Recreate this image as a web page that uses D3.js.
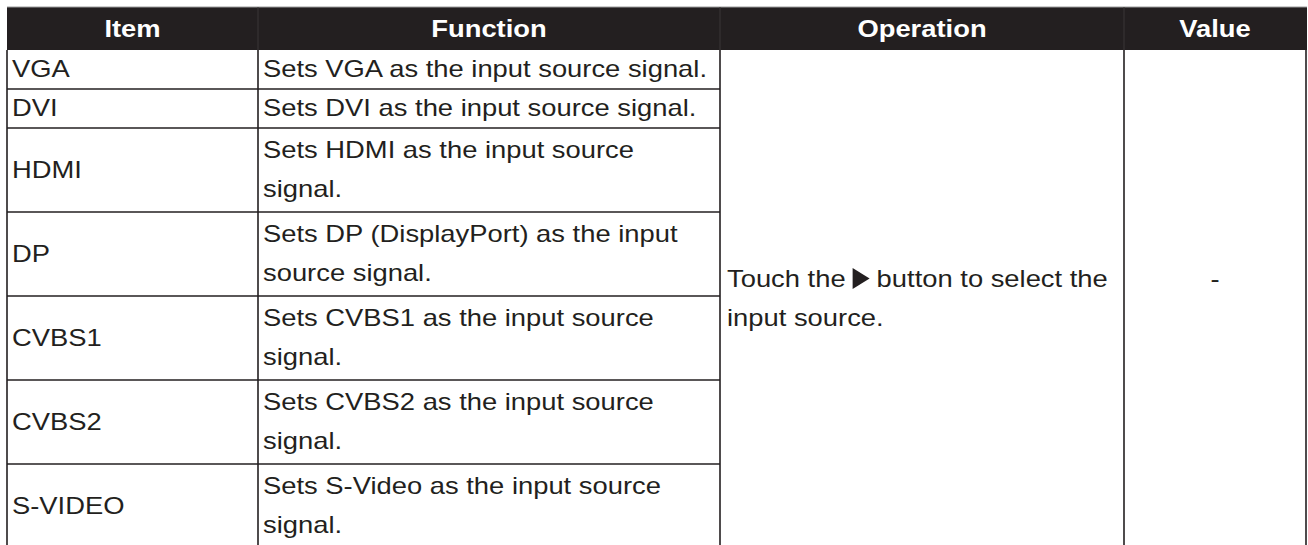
<!DOCTYPE html>
<html>
<head>
<meta charset="utf-8">
<script src="https://cdn.jsdelivr.net/npm/d3@7/dist/d3.min.js"></script>
<style>
  html,body{margin:0;padding:0;background:#fff;}
  svg{display:block;}
</style>
</head>
<body>
<svg id="chart" width="1308" height="545"></svg>
<script>
// ---- data ----
const headers = ["Item", "Function", "Operation", "Value"];
const items = ["VGA", "DVI", "HDMI", "DP", "CVBS1", "CVBS2", "S-VIDEO"];
const functionLines = [
  ["Sets VGA as the input source signal."],
  ["Sets DVI as the input source signal."],
  ["Sets HDMI as the input source", "signal."],
  ["Sets DP (DisplayPort) as the input", "source signal."],
  ["Sets CVBS1 as the input source", "signal."],
  ["Sets CVBS2 as the input source", "signal."],
  ["Sets S-Video as the input source", "signal."]
];
const operationLines = [["Touch the", "ARROW", "button to select the"], ["input source."]];
const valueText = ["-"];

// ---- layout ----
const W = 1308, H = 545;
const dark = "#231f20";
const colEdges = [7, 258, 720, 1124, 1306];
const headerTop = 7, headerBottom = 50;
const lineStep = 39, extraPerLine = 6;
const fontSize = 23, sx = 1.19, pad = 5, capOff = 7.5;

const svg = d3.select("#chart");

const colX0 = d3.scaleOrdinal().domain(headers).range(colEdges.slice(0, 4));
const colX1 = d3.scaleOrdinal().domain(headers).range(colEdges.slice(1));

const rowH = functionLines.map(l => l.length * lineStep + (l.length - 1) * extraPerLine);
const rowTops = [headerBottom];
rowH.forEach((h, i) => rowTops.push(rowTops[i] + h));
const rowY = d3.scaleOrdinal().domain(items).range(rowTops.slice(0, items.length));
const rowHs = d3.scaleOrdinal().domain(items).range(rowH);
const tableBottom = rowTops[rowTops.length - 1];

// header
svg.append("rect").attr("x", colEdges[0]).attr("y", headerTop)
  .attr("width", 1307 - colEdges[0]).attr("height", headerBottom - headerTop)
  .attr("fill", dark);
svg.append("line").attr("x1", colEdges[0]).attr("x2", 1307).attr("y1", headerTop).attr("y2", headerTop)
  .attr("stroke", "#9a9a9a").attr("stroke-width", 1);
svg.selectAll("line.hsep").data(colEdges.slice(1, 4)).enter().append("line")
  .attr("x1", d => d).attr("x2", d => d).attr("y1", headerTop).attr("y2", headerBottom)
  .attr("stroke", "#3a3637").attr("stroke-width", 1);

function addText(g, str, x, y, anchor, opts) {
  return g.append("text")
    .attr("transform", `translate(${x},${y}) scale(${sx},1)`)
    .attr("text-anchor", anchor)
    .attr("font-family", "'Liberation Sans', Arial, Helvetica, sans-serif")
    .attr("font-size", fontSize)
    .attr("font-weight", opts && opts.bold ? "bold" : "normal")
    .attr("fill", opts && opts.fill ? opts.fill : dark)
    .text(str);
}

const hg = svg.append("g");
headers.forEach(h => {
  addText(hg, h, (colX0(h) + colX1(h)) / 2, (headerTop + headerBottom) / 2 + 8.5, "middle", {bold: true, fill: "#ffffff"});
});

// body cells
const bg = svg.append("g");
items.forEach((it, i) => {
  const top = rowY(it), h = rowHs(it), cy = top + h / 2;
  addText(bg, it, colX0("Item") + pad, cy + capOff, "start");
  const lines = functionLines[i];
  lines.forEach((ln, k) => {
    const by = cy - (lines.length - 1) * lineStep / 2 + k * lineStep + capOff;
    addText(bg, ln, colX0("Function") + pad, by, "start");
  });
});

// operation cell (merged)
const opCy = (headerBottom + tableBottom) / 2;
operationLines.forEach((parts, k) => {
  const by = opCy - (operationLines.length - 1) * lineStep / 2 + k * lineStep + capOff;
  let x = colX0("Operation") + pad + 2;
  parts.forEach((p, j) => {
    if (p === "ARROW") {
      const tw = 17, th = 21, gap = 7;
      x += gap;
      const top = by - 17 - (th - 17) / 2;
      bg.append("path")
        .attr("d", `M${x},${top} L${x + tw},${top + th / 2} L${x},${top + th} Z`)
        .attr("fill", dark);
      x += tw + gap;
    } else {
      const t = addText(bg, p, x, by, "start");
      x += t.node().getComputedTextLength() * sx;
    }
  });
});

// value cell
valueText.forEach(v => {
  addText(bg, v, (colX0("Value") + colX1("Value")) / 2, opCy - lineStep / 2 + capOff, "middle");
});

// grid lines: horizontal separators in Item & Function columns
const lg = svg.append("g").attr("stroke", dark).attr("stroke-width", 1.6);
lg.selectAll("line.h").data(rowTops.slice(1, -1)).enter().append("line")
  .attr("x1", colEdges[0]).attr("x2", colEdges[2]).attr("y1", d => d).attr("y2", d => d);
// vertical borders
lg.selectAll("line.v").data(colEdges).enter().append("line")
  .attr("x1", d => d).attr("x2", d => d).attr("y1", headerBottom).attr("y2", H + 5);
</script>
</body>
</html>
